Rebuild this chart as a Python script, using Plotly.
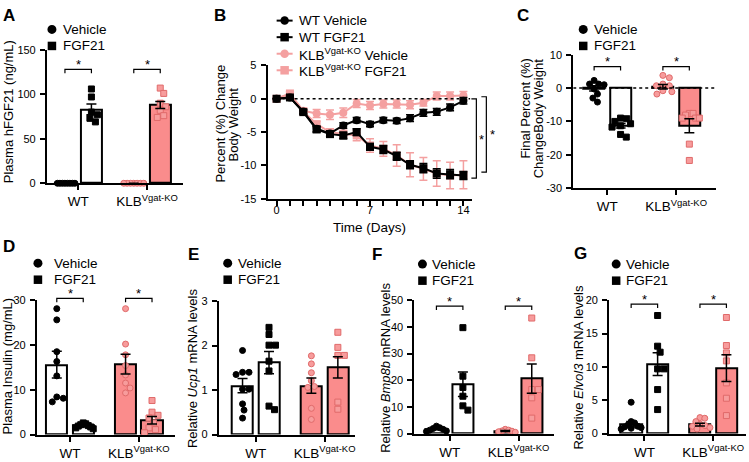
import plotly.graph_objects as go

W, H = 749, 462
FONT = "Liberation Sans, Arial, Helvetica, sans-serif"
BLACK = "#000000"
PINK_BAR = "#FA8C8C"
PINK_PT = "#F79C9C"
PINK_EDGE = "#E06A6A"
PINK_LINE = "#F4A0A0"

GROUPS = ["WT", "KLB<sup>Vgat-KO</sup>"]
SERIES = ["Vehicle", "FGF21"]

# ---------------- Panel A : Plasma hFGF21 (ng/mL)
A_wt_veh = [0, 0, 0, 0, 0, 0, 0, 0]
A_wt_fgf = [106, 97, 80, 77, 73, 69]
A_klb_veh = [0, 0, 0, 0, 0, 0, 0]
A_klb_fgf = [107, 101, 90, 86, 82, 76, 74]
A_mean = [0, 83, 0, 88]
A_sem = [0, 6, 0, 4]

# ---------------- Panel B : body weight change over time
B_days = list(range(15))
B_wt_veh = [0, 0.2, -1.9, -4.5, -5.2, -4.0, -3.2, -3.8, -3.2, -3.3, -2.9, -2.1, -1.95, -1.3, -0.3]
B_wt_veh_sem = [0, 0.2, 0.3, 0.4, 0.4, 0.4, 0.4, 0.4, 0.4, 0.4, 0.5, 0.5, 0.5, 0.5, 0.5]
B_wt_fgf = [0, 0.2, -2.0, -4.6, -5.3, -5.5, -5.0, -7.2, -7.6, -8.6, -9.9, -10.4, -11.2, -11.3, -11.5]
B_wt_fgf_sem = [0, 0.2, 0.3, 0.4, 0.4, 0.5, 0.5, 0.5, 0.6, 0.6, 0.6, 0.7, 0.7, 0.7, 0.6]
B_klb_veh = [0, 0.7, -1.8, -2.2, -2.4, -2.1, -0.7, -1.0, -0.8, -0.8, -0.9, -0.6, 0.4, 0.4, 0.5]
B_klb_veh_sem = [0, 0.3, 0.4, 0.6, 0.7, 0.7, 0.6, 0.6, 0.6, 0.6, 0.6, 0.5, 0.6, 0.6, 0.6]
B_klb_fgf = [0, 0.8, -1.9, -3.8, -5.0, -5.3, -5.5, -7.0, -7.5, -8.5, -9.9, -10.5, -11.2, -11.5, -11.4]
B_klb_fgf_sem = [0, 0.3, 0.4, 0.4, 0.5, 0.6, 0.8, 1.0, 1.1, 1.6, 1.8, 1.7, 1.9, 2.0, 2.1]
B_xticks = [0, 7, 14]

# ---------------- Panel C : final percent change body weight
C_wt_veh = [2.3, 1.2, 1.2, 1.0, -0.3, -1.8, -3.0, -4.2]
C_wt_fgf = [-9.0, -9.2, -10.0, -10.7, -11.3, -11.7, -13.9, -14.7]
C_klb_veh = [3.8, 3.1, 1.2, 0.7, 0.7, -0.8, -1.1, -1.8]
C_klb_fgf = [-7.6, -7.6, -8.1, -9.0, -9.0, -9.0, -16.8, -21.7]
C_mean = [-0.1, -11.3, 0.4, -11.3]
C_sem = [0.8, 0.7, 0.7, 2.1]

# ---------------- Panel D : plasma insulin
D_wt_veh = [28.1, 25.6, 18.5, 16.3, 13.1, 8.4, 8.1, 7.3]
D_wt_fgf = [2.6, 2.4, 2.2, 2.0, 1.9, 1.7, 1.5, 1.3]
D_klb_veh = [28.1, 20.2, 17.8, 15.4, 13.3, 11.5, 10.4, 9.3]
D_klb_fgf = [7.6, 5.0, 4.3, 3.7, 2.6, 1.5, 1.1, 0.4]
D_mean = [15.6, 2.0, 15.7, 3.2]
D_sem = [3.0, 0.3, 2.2, 0.85]

# ---------------- Panel E : Ucp1
E_wt_veh = [1.89, 1.40, 1.40, 1.35, 1.02, 1.02, 0.69, 0.55, 0.37]
E_wt_fgf = [2.41, 2.25, 2.01, 2.01, 1.65, 1.43, 0.64, 0.56]
E_klb_veh = [1.77, 1.59, 1.39, 1.21, 1.08, 1.06, 0.59, 0.34]
E_klb_fgf = [2.30, 1.96, 1.78, 1.78, 0.73, 0.57]
E_mean = [1.10, 1.62, 1.10, 1.51]
E_sem = [0.16, 0.25, 0.17, 0.24]

# ---------------- Panel F : Bmp8b
F_wt_veh = [2.8, 2.2, 1.9, 1.6, 1.3, 1.0, 0.8]
F_wt_fgf = [39.7, 21.5, 17.3, 14.0, 10.4, 8.8]
F_klb_veh = [1.6, 1.3, 1.0, 0.9, 0.7, 0.5]
F_klb_fgf = [43.3, 28.4, 16.5, 16.5, 13.4, 5.8]
F_mean = [1.7, 18.5, 1.0, 20.6]
F_sem = [0.3, 4.6, 0.2, 5.5]

# ---------------- Panel G : Elvol3
G_wt_veh = [4.7, 1.8, 1.6, 1.3, 1.1, 1.0, 0.9, 0.8, 0.7]
G_wt_fgf = [17.7, 13.1, 12.2, 9.7, 9.7, 6.6, 3.6]
G_klb_veh = [2.4, 2.3, 1.8, 1.4, 1.2, 1.1, 0.9, 0.7]
G_klb_fgf = [17.4, 13.2, 12.1, 10.9, 7.6, 5.3, 2.7]
G_mean = [1.4, 10.4, 1.35, 9.8]
G_sem = [0.4, 1.7, 0.22, 2.0]

# ====================================================================
SLOTS = [0.0, 1.0, 2.6, 3.6]          # bar slots on each bar panel's x axis
GROUP_CENTERS = [0.5, 3.1]

fig = go.Figure()
layout = {}
shapes = []
annotations = []


class Panel:
    def __init__(self, n, box, xr, yr):
        self.n = n
        self.l, self.t, self.r, self.b = box
        self.xr, self.yr = xr, yr
        self.ppx = (self.r - self.l) / (xr[1] - xr[0])
        self.ppy = (self.b - self.t) / (yr[1] - yr[0])
        self.xa = "x" if n == 1 else f"x{n}"
        self.ya = "y" if n == 1 else f"y{n}"

    def X(self, u):
        return self.l + (u - self.xr[0]) * self.ppx

    def Y(self, v):
        return self.t + (self.yr[1] - v) * self.ppy


def PX(px):
    return px / W


def PY(py):
    return 1 - py / H


def tick_txt(v):
    return str(int(v)) if float(v).is_integer() else str(v)


def axis_common():
    return dict(showline=True, linecolor=BLACK, linewidth=2, ticks="outside",
                ticklen=5, tickwidth=1.5, tickcolor=BLACK, showgrid=False,
                zeroline=False, fixedrange=True)


def set_axes(p, xextra, yticks):
    xk = "xaxis" if p.n == 1 else f"xaxis{p.n}"
    yk = "yaxis" if p.n == 1 else f"yaxis{p.n}"
    xa = axis_common()
    xa.update(domain=[PX(p.l), PX(p.r)], range=list(p.xr), anchor=p.ya)
    xa.update(xextra)
    ya = axis_common()
    ya.update(domain=[PY(p.b), PY(p.t)], range=list(p.yr), anchor=p.xa,
              tickvals=yticks, ticktext=[tick_txt(v) for v in yticks],
              tickfont=dict(size=11, color=BLACK), ticklabelstandoff=2)
    layout[xk] = xa
    layout[yk] = ya


def swarm(vals, p, d=6.5, limit=10.0):
    order = sorted(range(len(vals)), key=lambda i: -vals[i])
    placed = []
    offs = [0.0] * len(vals)
    cands = [0.0]
    for k in range(1, 120):
        cands += [k * 0.5, -k * 0.5]
    for i in order:
        y = vals[i] * p.ppy
        chosen = 0.0
        for c in cands:
            if all((c - px) ** 2 + (y - py) ** 2 >= d * d for px, py in placed):
                chosen = c
                break
        placed.append((chosen, y))
        offs[i] = chosen
    m = max(abs(o) for o in offs) if offs else 0
    if m > limit:
        offs = [o * limit / m for o in offs]
    return [o / p.ppx for o in offs]


def add_text(px, py, text, size=13, xanchor="left", yanchor="middle", angle=0, bold=False):
    annotations.append(dict(x=PX(px), y=PY(py), xref="paper", yref="paper",
                            text=f"<b>{text}</b>" if bold else text, showarrow=False,
                            xanchor=xanchor, yanchor=yanchor, textangle=angle,
                            font=dict(size=size, color=BLACK, family=FONT)))


def legend_marker(cx, cy, sym, size=9, color=BLACK):
    r = size / 2
    shapes.append(dict(type="circle" if sym == "circle" else "rect",
                       xref="paper", yref="paper", xsizemode="pixel", ysizemode="pixel",
                       xanchor=PX(cx), yanchor=PY(cy), x0=-r, x1=r, y0=-r, y1=r,
                       fillcolor=color, line=dict(width=0)))


def bar_legend(mx, rows, tx):
    legend_marker(mx, rows[0], "circle")
    legend_marker(mx, rows[1], "square", size=8.5)
    add_text(tx, rows[0], SERIES[0], size=13.5)
    add_text(tx, rows[1], SERIES[1], size=13.5)


def bracket(p, u0, u1, v, tick=4):
    x0, x1, y = PX(p.X(u0)), PX(p.X(u1)), PY(p.Y(v))
    yt = PY(p.Y(v) + tick)
    shapes.append(dict(type="path", xref="paper", yref="paper",
                       path=f"M {x0},{yt} L {x0},{y} L {x1},{y} L {x1},{yt}",
                       line=dict(color=BLACK, width=1.2)))
    add_text((p.X(u0) + p.X(u1)) / 2, p.Y(v) - 5, "*", size=13, xanchor="center")


def bar_panel(p, points, means, sems, yticks, bracket_v=None):
    fills = ["white", "white", PINK_BAR, PINK_BAR]
    fig.add_trace(go.Bar(x=SLOTS, y=means, width=0.8,
                         marker=dict(color=fills, line=dict(color=BLACK, width=2)),
                         xaxis=p.xa, yaxis=p.ya, showlegend=False, hoverinfo="skip"))
    styles = [("circle", BLACK, BLACK), ("square", BLACK, BLACK),
              ("circle", PINK_PT, PINK_EDGE), ("square", PINK_PT, PINK_EDGE)]
    for slot, vals, (sym, fc, lc) in zip(SLOTS, points, styles):
        offs = swarm(vals, p)
        fig.add_trace(go.Scatter(x=[slot + o for o in offs], y=vals, mode="markers",
                                 marker=dict(symbol=sym, size=6, color=fc,
                                             line=dict(color=lc, width=1)),
                                 cliponaxis=False, xaxis=p.xa, yaxis=p.ya,
                                 showlegend=False, hoverinfo="skip"))
    fig.add_trace(go.Scatter(x=SLOTS, y=means, mode="markers",
                             marker=dict(size=2, opacity=0),
                             error_y=dict(type="data", array=sems, color=BLACK,
                                          thickness=1.5, width=5, visible=True),
                             xaxis=p.xa, yaxis=p.ya, showlegend=False, hoverinfo="skip"))
    set_axes(p, dict(tickvals=GROUP_CENTERS, ticktext=GROUPS,
                     tickfont=dict(size=13.5, color=BLACK), ticklabelstandoff=0), yticks)
    if bracket_v is not None:
        bracket(p, SLOTS[0], SLOTS[1], bracket_v)
        bracket(p, SLOTS[2], SLOTS[3], bracket_v)


# ---------------- Panel A
pA = Panel(1, (47, 45, 183, 182), (-0.68, 4.45), (0, 150))
bar_panel(pA, [A_wt_veh, A_wt_fgf, A_klb_veh, A_klb_fgf], A_mean, A_sem,
          [0, 50, 100, 150], bracket_v=128)
bar_legend(52, (24, 41), 61)
add_text(8, 108, "Plasma hFGF21 (ng/mL)", angle=-90, xanchor="center")
add_text(1, 10, "A", size=17, bold=True)

# ---------------- Panel B
pB = Panel(2, (268, 61, 473, 198), (-0.67, 14.67), (-15, 5))
shapes.append(dict(type="line", xref=pB.xa, yref=pB.ya, x0=0, x1=14.5, y0=0, y1=0,
                   line=dict(color=BLACK, width=1.5, dash="dot")))
b_series = [
    (B_klb_veh, B_klb_veh_sem, "circle", PINK_LINE),
    (B_klb_fgf, B_klb_fgf_sem, "square", PINK_LINE),
    (B_wt_veh, B_wt_veh_sem, "circle", BLACK),
    (B_wt_fgf, B_wt_fgf_sem, "square", BLACK),
]
for vals, sem, sym, col in b_series:
    fig.add_trace(go.Scatter(x=B_days, y=vals, mode="lines+markers",
                             line=dict(color=col, width=2),
                             marker=dict(symbol=sym, size=8, color=col),
                             error_y=dict(type="data", array=sem, color=col,
                                          thickness=1.5, width=4, visible=True),
                             cliponaxis=False, xaxis=pB.xa, yaxis=pB.ya,
                             showlegend=False, hoverinfo="skip"))
set_axes(pB, dict(tickvals=B_xticks, ticktext=[tick_txt(v) for v in B_xticks],
                  tickfont=dict(size=11, color=BLACK), ticklabelstandoff=-5,
                  minor=dict(ticks="outside", ticklen=5, tickwidth=1.5, tickcolor=BLACK,
                             tick0=0, dtick=1, showgrid=False)),
         [-15, -10, -5, 0, 5])
b_leg = [("WT Vehicle", "circle", BLACK), ("WT FGF21", "square", BLACK),
         ("KLB<sup>Vgat-KO</sup> Vehicle", "circle", PINK_LINE),
         ("KLB<sup>Vgat-KO</sup> FGF21", "square", PINK_LINE)]
for (txt, sym, col), ry in zip(b_leg, [15, 32, 49, 66]):
    shapes.append(dict(type="line", xref="paper", yref="paper", x0=PX(277), x1=PX(293),
                       y0=PY(ry), y1=PY(ry), line=dict(color=col, width=2)))
    legend_marker(285, ry, sym, size=8.5, color=col)
    add_text(297, ry, txt, size=13.5)
add_text(221, 121, "Percent (%) Change", angle=-90, xanchor="center")
add_text(234, 122, "Body Weight", angle=-90, xanchor="center")
add_text(370, 227, "Time (Days)", size=13.5, xanchor="center")
add_text(212, 10, "B", size=17, bold=True)
# significance brackets at right of panel B
for bx, top_v, bot_v, sx, sy in [(477, 0.0, -11.9, 482, 137), (487, 0.3, -11.0, 493, 132)]:
    x0, x1 = PX(bx - 5), PX(bx)
    y0, y1 = PY(pB.Y(top_v)), PY(pB.Y(bot_v))
    shapes.append(dict(type="path", xref="paper", yref="paper",
                       path=f"M {x0},{y0} L {x1},{y0} L {x1},{y1} L {x0},{y1}",
                       line=dict(color=BLACK, width=1.2)))
    add_text(sx, sy, "*", size=13, xanchor="center")

# ---------------- Panel C
pC = Panel(3, (574, 50, 717, 187), (-0.79, 4.61), (-30, 10))
shapes.append(dict(type="line", xref=pC.xa, yref=pC.ya, x0=pC.xr[0], x1=pC.xr[1], y0=0, y1=0,
                   line=dict(color=BLACK, width=1.5, dash="dot")))
bar_panel(pC, [C_wt_veh, C_wt_fgf, C_klb_veh, C_klb_fgf], C_mean, C_sem,
          [-30, -20, -10, 0, 10], bracket_v=6.4)
bar_legend(584, (24, 41), 593)
add_text(526, 105, "Final Percent (%)", angle=-90, xanchor="center")
add_text(540, 116, "ChangeBody Weight", angle=-90, xanchor="center")
add_text(516, 10, "C", size=17, bold=True)

# ---------------- Panel D
pD = Panel(4, (37, 302, 175, 440), (-0.75, 4.46), (0, 30))
bar_panel(pD, [D_wt_veh, D_wt_fgf, D_klb_veh, D_klb_fgf], D_mean, D_sem,
          [0, 10, 20, 30], bracket_v=30.4)
bar_legend(38, (264, 281), 52)
add_text(7, 369, "Plasma Insulin (mg/mL)", angle=-90, xanchor="center")
add_text(1, 247, "D", size=17, bold=True)

# ---------------- Panel E
pE = Panel(5, (219, 303, 355, 440), (-0.9, 4.23), (0, 3))
bar_panel(pE, [E_wt_veh, E_wt_fgf, E_klb_veh, E_klb_fgf], E_mean, E_sem, [0, 1, 2, 3])
bar_legend(228, (264, 281), 236)
add_text(193, 372, "Relative <i>Ucp1</i> mRNA levels", angle=-90, xanchor="center")
add_text(186, 255, "E", size=17, bold=True)

# ---------------- Panel F
pF = Panel(6, (415, 302, 555, 439), (-0.83, 4.45), (0, 50))
bar_panel(pF, [F_wt_veh, F_wt_fgf, F_klb_veh, F_klb_fgf], F_mean, F_sem,
          [0, 10, 20, 30, 40, 50], bracket_v=47.8)
bar_legend(423, (265, 282), 431)
add_text(386, 371, "Relative <i>Bmp8b</i> mRNA levels", angle=-90, xanchor="center")
add_text(370, 255, "F", size=17, bold=True)

# ---------------- Panel G
pG = Panel(7, (610, 302, 747, 439), (-0.83, 4.34), (0, 20))
bar_panel(pG, [G_wt_veh, G_wt_fgf, G_klb_veh, G_klb_fgf], G_mean, G_sem,
          [0, 5, 10, 15, 20], bracket_v=19.4)
bar_legend(617, (265, 282), 625)
add_text(579, 371, "Relative <i>Elvol3</i> mRNA levels", angle=-90, xanchor="center")
add_text(573, 254, "G", size=17, bold=True)

layout.update(width=W, height=H, margin=dict(l=0, r=0, t=0, b=0),
              paper_bgcolor="white", plot_bgcolor="white", showlegend=False,
              font=dict(family=FONT, color=BLACK, size=13),
              shapes=shapes, annotations=annotations, bargap=0)
fig.update_layout(**layout)
fig.write_html("out.html", config={"displayModeBar": False},
               post_script="document.body.style.margin='0px';")
